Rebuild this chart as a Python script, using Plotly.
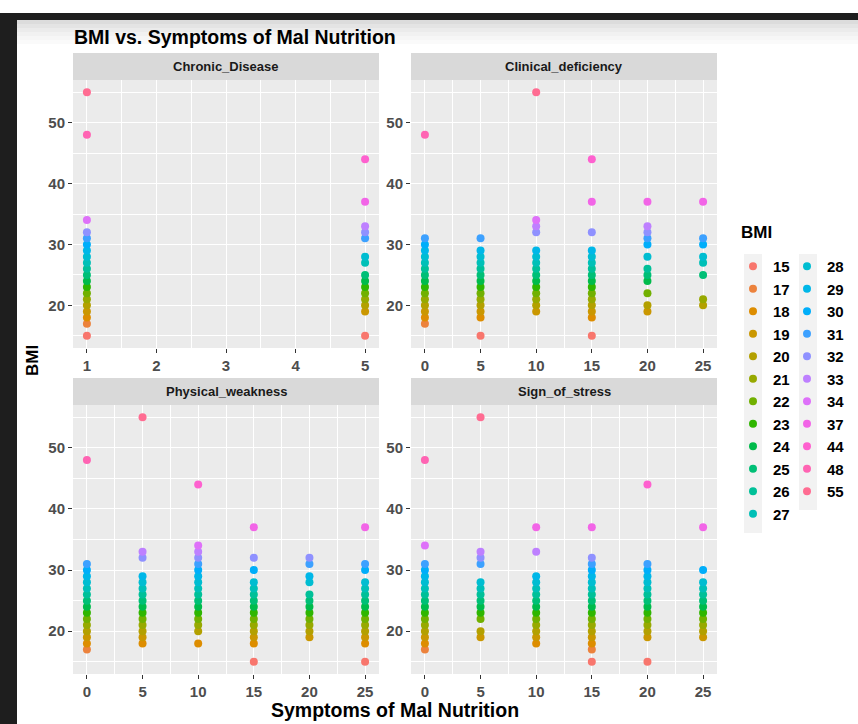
import math
import plotly.graph_objects as go

# ---------------- data ----------------
bmi_levels = [15, 17, 18, 19, 20, 21, 22, 23, 24, 25, 26, 27,
              28, 29, 30, 31, 32, 33, 34, 37, 44, 48, 55]

facet_names = ["Chronic_Disease", "Clinical_deficiency", "Physical_weakness", "Sign_of_stress"]

chronic_disease = {
    1: [15, 17, 18, 19, 20, 21, 22, 23, 24, 25, 26, 27, 28, 29, 30, 31, 32, 34, 48, 55],
    5: [15, 19, 20, 21, 22, 23, 24, 25, 27, 28, 31, 32, 33, 37, 44],
}
clinical_deficiency = {
    0: [17, 18, 19, 20, 21, 22, 23, 24, 25, 26, 27, 28, 29, 30, 31, 48],
    5: [15, 18, 19, 20, 21, 22, 23, 24, 25, 26, 27, 28, 29, 31],
    10: [19, 20, 21, 22, 23, 24, 25, 26, 27, 28, 29, 32, 33, 34, 55],
    15: [15, 18, 19, 20, 21, 22, 23, 24, 25, 26, 27, 28, 29, 32, 37, 44],
    20: [19, 20, 22, 24, 25, 26, 28, 30, 31, 32, 33, 37],
    25: [20, 21, 25, 27, 28, 30, 31, 37],
}
physical_weakness = {
    0: [17, 18, 19, 20, 21, 22, 23, 24, 25, 26, 27, 28, 29, 30, 31, 48],
    5: [18, 19, 20, 21, 22, 23, 24, 25, 26, 27, 28, 29, 32, 33, 55],
    10: [18, 20, 21, 22, 23, 24, 25, 26, 27, 28, 29, 30, 31, 32, 33, 34, 44],
    15: [15, 18, 19, 20, 21, 22, 23, 24, 25, 26, 27, 28, 30, 32, 37],
    20: [19, 20, 21, 22, 23, 24, 25, 26, 28, 29, 31, 32],
    25: [15, 18, 19, 20, 21, 22, 23, 24, 25, 26, 27, 28, 30, 31, 37],
}
sign_of_stress = {
    0: [17, 18, 19, 20, 21, 22, 23, 24, 25, 26, 27, 28, 29, 30, 31, 34, 48],
    5: [19, 20, 22, 23, 24, 25, 26, 27, 28, 31, 32, 33, 55],
    10: [18, 19, 20, 21, 22, 23, 24, 25, 26, 27, 28, 29, 33, 37],
    15: [15, 17, 18, 19, 20, 21, 22, 23, 24, 25, 26, 27, 28, 29, 30, 31, 32, 37],
    20: [15, 19, 20, 21, 22, 23, 24, 25, 26, 27, 28, 29, 30, 31, 44],
    25: [19, 20, 21, 22, 23, 24, 25, 26, 27, 28, 30, 37],
}
facet_data = [chronic_disease, clinical_deficiency, physical_weakness, sign_of_stress]

chronic_ticks = [1, 2, 3, 4, 5]
symptom_ticks = [0, 5, 10, 15, 20, 25]
bmi_ticks = [20, 30, 40, 50]

# ---------------- ggplot hue palette ----------------
def hcl_to_hex(h, c=100.0, l=65.0):
    WY, Wu, Wv = 100.0, 0.1978398, 0.4683363
    U = c * math.cos(math.radians(h))
    V = c * math.sin(math.radians(h))
    Y = WY * (((l + 16) / 116) ** 3 if l > 7.999592 else l / 903.3)
    u = U / (13 * l) + Wu
    v = V / (13 * l) + Wv
    X = 9.0 * Y * u / (4 * v)
    Z = -X / 3 - 5 * Y + 3 * Y / v

    def g(t):
        t = 1.055 * t ** (1 / 2.4) - 0.055 if t > 0.00304 else 12.92 * t
        return min(max(t, 0.0), 1.0)
    r = g((3.240479 * X - 1.537150 * Y - 0.498535 * Z) / WY)
    gg = g((-0.969256 * X + 1.875992 * Y + 0.041556 * Z) / WY)
    b = g((0.055648 * X - 0.204043 * Y + 1.057311 * Z) / WY)
    return "#%02X%02X%02X" % (round(r * 255), round(gg * 255), round(b * 255))

n = len(bmi_levels)
hues = [15 + 360 * i / n for i in range(n)]
colors = {lvl: hcl_to_hex(h) for lvl, h in zip(bmi_levels, hues)}

# ---------------- layout geometry (pixels) ----------------
W, H = 858, 724
def px(x):
    return x / W
def py(y):
    return 1 - y / H

panels = [  # (x0, x1, y0, y1) in pixels, y from top
    (73, 379, 80, 348),
    (411, 717, 80, 348),
    (73, 379, 405, 674),
    (411, 717, 405, 674),
]
strip_h = 27

fig = go.Figure()

axis_font = dict(family="Liberation Sans, Arial", size=15, color="#4D4D4D", weight="bold")

for i, (name, data) in enumerate(zip(facet_names, facet_data)):
    ax = "" if i == 0 else str(i + 1)
    xref = "x" + ax
    yref = "y" + ax
    for lvl in bmi_levels:
        xs, ys = [], []
        for xv, vals in data.items():
            if lvl in vals:
                xs.append(xv)
                ys.append(lvl)
        fig.add_trace(go.Scatter(
            x=xs if xs else [None], y=ys if ys else [None], mode="markers",
            xaxis=xref, yaxis=yref,
            marker=dict(color=colors[lvl], size=8, line=dict(width=0)),
            name=str(lvl), legendgroup=str(lvl),
            showlegend=(i == 0),
            legend="legend" if lvl <= 27 else "legend2",
        ))

    x0, x1, y0, y1 = panels[i]
    if i == 0:
        xr = [0.8, 5.2]
        xt = chronic_ticks
        minor_x = [1.5, 2.5, 3.5, 4.5]
    else:
        xr = [-1.25, 26.25]
        xt = symptom_ticks
        minor_x = [2.5, 7.5, 12.5, 17.5, 22.5]
    common = dict(
        showgrid=True, gridcolor="white", gridwidth=1.1, zeroline=False,
        ticks="outside", ticklen=4, tickwidth=1.1, tickcolor="#333333",
        tickfont=axis_font, showline=False, fixedrange=True,
    )
    fig.layout["xaxis" + ax] = dict(
        domain=[px(x0), px(x1)], range=xr, tickvals=xt,
        anchor="y" + ax,
        minor=dict(tickvals=minor_x, showgrid=True, gridcolor="white", gridwidth=0.55, ticks=""),
        **common,
    )
    fig.layout["yaxis" + ax] = dict(
        domain=[py(y1), py(y0)], range=[13, 57], tickvals=bmi_ticks,
        anchor="x" + ax,
        minor=dict(tickvals=[15, 25, 35, 45, 55], showgrid=True, gridcolor="white", gridwidth=0.55, ticks=""),
        **common,
    )
    # strip
    fig.add_shape(type="rect", xref="paper", yref="paper",
                  x0=px(x0), x1=px(x1), y0=py(y0), y1=py(y0 - strip_h),
                  fillcolor="#D9D9D9", line=dict(width=0), layer="below")
    fig.add_annotation(text=name, xref="paper", yref="paper",
                       x=px((x0 + x1) / 2), y=py(y0 - strip_h / 2),
                       showarrow=False, xanchor="center", yanchor="middle",
                       font=dict(family="Liberation Sans, Arial", size=13, color="#1A1A1A", weight="bold"))

# frame of the screenshot
fig.add_shape(type="rect", xref="paper", yref="paper", x0=0, x1=1, y0=py(20), y1=py(13),
              fillcolor="#1E1E1E", line=dict(width=0), layer="below")
fig.add_shape(type="rect", xref="paper", yref="paper", x0=0, x1=px(17), y0=0, y1=py(13),
              fillcolor="#1E1E1E", line=dict(width=0), layer="below")
for k, c in enumerate(["#DCDCDC", "#E4E4E4", "#EBEBEB", "#F1F1F1", "#F6F6F6", "#FAFAFA"]):
    fig.add_shape(type="rect", xref="paper", yref="paper", x0=px(17), x1=1,
                  y0=py(20 + 4 * (k + 1)), y1=py(20 + 4 * k),
                  fillcolor=c, line=dict(width=0), layer="below")

# legend key backgrounds
fig.add_shape(type="rect", xref="paper", yref="paper", x0=px(744), x1=px(762), y0=py(533), y1=py(254),
              fillcolor="#F2F2F2", line=dict(width=0), layer="below")
fig.add_shape(type="rect", xref="paper", yref="paper", x0=px(799), x1=px(817), y0=py(510), y1=py(254),
              fillcolor="#F2F2F2", line=dict(width=0), layer="below")

# titles
title_font = dict(family="Liberation Sans, Arial", size=19.5, color="black", weight="bold")
fig.add_annotation(text="BMI vs. Symptoms of Mal Nutrition", xref="paper", yref="paper",
                   x=px(72), y=py(37), xanchor="left", yanchor="middle", showarrow=False, font=title_font)
fig.add_annotation(text="Symptoms of Mal Nutrition", xref="paper", yref="paper",
                   x=px(395), y=py(710), xanchor="center", yanchor="middle", showarrow=False, font=title_font)
fig.add_annotation(text="BMI", xref="paper", yref="paper", textangle=-90,
                   x=px(33), y=py(361), xanchor="center", yanchor="middle", showarrow=False,
                   font=dict(family="Liberation Sans, Arial", size=17, color="black", weight="bold"))
fig.add_annotation(text="BMI", xref="paper", yref="paper",
                   x=px(739), y=py(233), xanchor="left", yanchor="middle", showarrow=False,
                   font=dict(family="Liberation Sans, Arial", size=17, color="black", weight="bold"))

legend_common = dict(
    bgcolor="rgba(0,0,0,0)", borderwidth=0, tracegroupgap=0, itemsizing="trace",
    font=dict(family="Liberation Sans, Arial", size=15, color="black", weight="bold"),
    xanchor="left", yanchor="top", orientation="v", itemclick=False, itemdoubleclick=False,
)
fig.update_layout(
    width=W, height=H, margin=dict(l=0, r=0, t=0, b=0),
    paper_bgcolor="white", plot_bgcolor="#EBEBEB",
    showlegend=True,
    legend=dict(x=px(733), y=py(250), **legend_common),
    legend2=dict(x=px(787), y=py(250), **legend_common),
)

fig.write_html("out.html", config={"displayModeBar": False})

# remove the browser's default body margin so the figure sits at the page origin
with open("out.html", "r", encoding="utf-8") as f:
    html = f.read()
html = html.replace("<body>", '<body style="margin:0;padding:0;overflow:hidden">', 1)
with open("out.html", "w", encoding="utf-8") as f:
    f.write(html)
